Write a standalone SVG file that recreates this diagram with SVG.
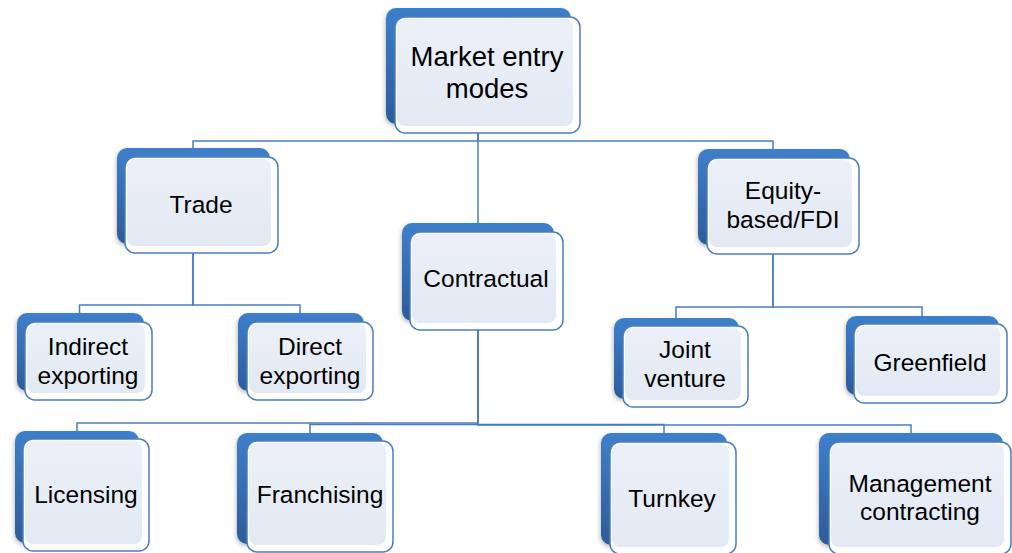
<svg xmlns="http://www.w3.org/2000/svg" width="1012" height="553" viewBox="0 0 1012 553">
<defs>
<linearGradient id="backG" x1="0" y1="0" x2="0" y2="1">
<stop offset="0" stop-color="#3E7FCB"/>
<stop offset="1" stop-color="#2D5C9A"/>
</linearGradient>
<linearGradient id="frontG" x1="0" y1="0" x2="0" y2="1">
<stop offset="0" stop-color="#EBF0F8"/>
<stop offset="1" stop-color="#E3E9F3"/>
</linearGradient>
<filter id="sh" x="-10%" y="-10%" width="120%" height="120%">
<feDropShadow dx="-1" dy="2" stdDeviation="2" flood-color="#000" flood-opacity="0.25"/>
</filter>
<style>
.back{fill:url(#backG);filter:url(#sh)}
.front{fill:#FFFFFF;stroke:#4A7EBB;stroke-width:1.5}
.inner{fill:url(#frontG)}
.conn{fill:none;stroke:#4A7EBB;stroke-width:1.5}
text{font-family:"Liberation Sans",Arial,sans-serif;font-size:24.5px;fill:#000;text-anchor:middle}
.big{font-size:27.5px}
</style>
</defs>
<g id="connectors">
<path class="conn" d="M478,133 V141 H193 V150"/>
<path class="conn" d="M478,133 V225"/>
<path class="conn" d="M478,133 V141 H773 V151"/>
<path class="conn" d="M193,253 V305 H79.5 V315"/>
<path class="conn" d="M193,253 V305 H300 V315"/>
<path class="conn" d="M773,254 V307 H676 V320"/>
<path class="conn" d="M773,254 V307 H922 V318"/>
<path class="conn" d="M478,330 V423 H77 V433"/>
<path class="conn" d="M478,330 V424.5 H310 V435"/>
<path class="conn" d="M478,330 V424.5 H664 V435"/>
<path class="conn" d="M478,330 V425 H911 V435"/>
</g>
<g id="root">
<rect class="back" x="386" y="8" width="185" height="116" rx="10"/>
<rect class="front" x="395" y="17" width="185" height="116" rx="10"/>
<rect class="inner" x="397" y="19" width="176" height="107" rx="8"/>
<text class="big" x="487" y="66">Market entry</text>
<text class="big" x="487" y="98">modes</text>
</g>
<g id="trade">
<rect class="back" x="117" y="148" width="153" height="96" rx="10"/>
<rect class="front" x="125" y="157" width="153" height="96" rx="10"/>
<rect class="inner" x="127" y="159" width="144" height="87" rx="8"/>
<text x="201" y="213">Trade</text>
</g>
<g id="contractual">
<rect class="back" x="402" y="223" width="152" height="98" rx="10"/>
<rect class="front" x="410" y="232" width="153" height="98" rx="10"/>
<rect class="inner" x="412" y="234" width="144" height="89" rx="8"/>
<text x="486" y="287">Contractual</text>
</g>
<g id="equity">
<rect class="back" x="698" y="149" width="152" height="96" rx="10"/>
<rect class="front" x="707" y="158" width="152" height="96" rx="10"/>
<rect class="inner" x="709" y="160" width="143" height="87" rx="8"/>
<text x="783" y="199">Equity-</text>
<text x="783" y="228">based/FDI</text>
</g>
<g id="indirect">
<rect class="back" x="17" y="313" width="127" height="78" rx="10"/>
<rect class="front" x="25" y="322" width="127" height="78" rx="10"/>
<rect class="inner" x="27" y="324" width="118" height="69" rx="8"/>
<text x="88" y="355">Indirect</text>
<text x="88" y="384">exporting</text>
</g>
<g id="direct">
<rect class="back" x="238" y="313" width="126" height="78" rx="10"/>
<rect class="front" x="247" y="322" width="126" height="78" rx="10"/>
<rect class="inner" x="249" y="324" width="117" height="69" rx="8"/>
<text x="310" y="355">Direct</text>
<text x="310" y="384">exporting</text>
</g>
<g id="joint">
<rect class="back" x="614" y="318" width="125" height="81" rx="10"/>
<rect class="front" x="623" y="326" width="125" height="81" rx="10"/>
<rect class="inner" x="625" y="328" width="116" height="72" rx="8"/>
<text x="685" y="358">Joint</text>
<text x="685" y="387">venture</text>
</g>
<g id="greenfield">
<rect class="back" x="846" y="316" width="153" height="79" rx="10"/>
<rect class="front" x="854" y="324" width="153" height="79" rx="10"/>
<rect class="inner" x="856" y="326" width="144" height="70" rx="8"/>
<text x="930" y="371">Greenfield</text>
</g>
<g id="licensing">
<rect class="back" x="15" y="431" width="124" height="112" rx="10"/>
<rect class="front" x="23" y="439" width="126" height="112" rx="10"/>
<rect class="inner" x="25" y="441" width="117" height="103" rx="8"/>
<text x="86" y="503">Licensing</text>
</g>
<g id="franchising">
<rect class="back" x="237" y="433" width="146" height="111" rx="10"/>
<rect class="front" x="247" y="441" width="146" height="111" rx="10"/>
<rect class="inner" x="249" y="443" width="137" height="102" rx="8"/>
<text x="320" y="503">Franchising</text>
</g>
<g id="turnkey">
<rect class="back" x="601" y="433" width="126" height="112" rx="10"/>
<rect class="front" x="610" y="442" width="126" height="112" rx="10"/>
<rect class="inner" x="612" y="444" width="117" height="103" rx="8"/>
<text x="672" y="507">Turnkey</text>
</g>
<g id="management">
<rect class="back" x="819" y="433" width="184" height="112" rx="10"/>
<rect class="front" x="829" y="442" width="182" height="112" rx="10"/>
<rect class="inner" x="831" y="444" width="173" height="103" rx="8"/>
<text x="920" y="492">Management</text>
<text x="920" y="520">contracting</text>
</g>
</svg>
